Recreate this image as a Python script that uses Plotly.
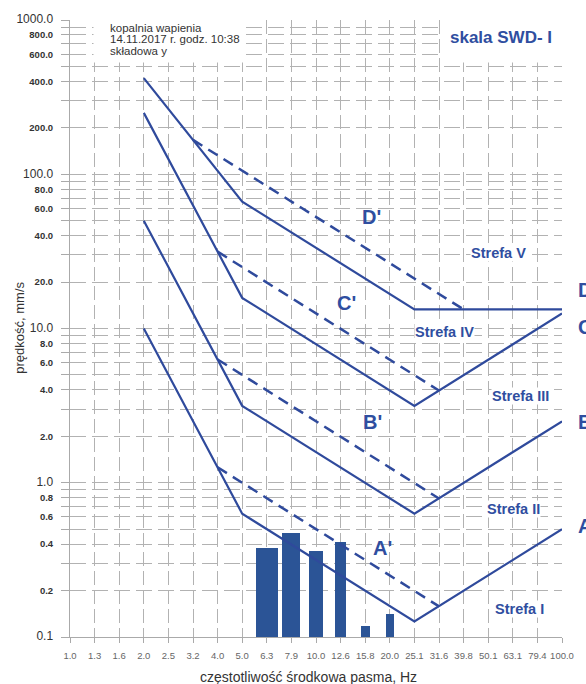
import plotly.graph_objects as go

# one-third-octave band centre frequencies (Hz)
bands = ["1.0", "1.3", "1.6", "2.0", "2.5", "3.2", "4.0", "5.0", "6.3", "7.9", "10.0",
         "12.6", "15.8", "20.0", "25.1", "31.6", "39.8", "50.1", "63.1", "79.4", "100.0"]

# zone boundaries of the SWD-I scale (mm/s)
a_freq = ["2.0", "5.0", "25.1", "100.0"]
a_vel = [10.0, 0.63, 0.126, 0.5]
b_freq = ["2.0", "5.0", "25.1", "100.0"]
b_vel = [50.0, 3.15, 0.63, 2.5]
c_freq = ["2.0", "5.0", "25.1", "100.0"]
c_vel = [250.0, 15.8, 3.15, 12.5]
d_freq = ["2.0", "5.0", "25.1", "100.0"]
d_vel = [420.0, 66.5, 13.3, 13.3]

# auxiliary (primed) boundaries
ap_freq = ["4.0", "31.6"]
ap_vel = [1.26, 0.158]
bp_freq = ["4.0", "31.6"]
bp_vel = [6.3, 0.79]
cp_freq = ["4.0", "31.6"]
cp_vel = [31.5, 3.96]
dp_freq = ["3.2", "39.8"]
dp_vel = [167.0, 13.3]

# measured band velocities, component y
meas_freq = ["6.3", "7.9", "10.0", "12.6", "15.8", "20.0"]
meas_vel = [0.38, 0.47, 0.36, 0.41, 0.117, 0.14]
meas_width = [0.9, 0.73, 0.6, 0.44, 0.38, 0.31]

LINE = "#2f4a9c"
BAR = "#2b5496"
TXT = "#2f4ea0"
GRID = "#b2b2b2"
FONT = "Liberation Sans, Arial, sans-serif"

L, R, T, B = 70, 12, 16, 47
W, H = 586, 684
PW, PH = W - L - R, H - T - B


def idx(freqs):
    return [bands.index(f) for f in freqs]


def px(x):
    return (x - L) / PW


def py(y):
    return (H - B - y) / PH


fig = go.Figure()

fig.add_trace(go.Bar(x=idx(meas_freq), y=meas_vel, width=meas_width,
                     marker=dict(color=BAR, line=dict(width=0)), showlegend=False))

for fr, v in [(a_freq, a_vel), (b_freq, b_vel), (c_freq, c_vel), (d_freq, d_vel)]:
    fig.add_trace(go.Scatter(x=idx(fr), y=v, mode="lines",
                             line=dict(color=LINE, width=2.2), showlegend=False))

for fr, v in [(ap_freq, ap_vel), (bp_freq, bp_vel), (cp_freq, cp_vel), (dp_freq, dp_vel)]:
    fig.add_trace(go.Scatter(x=idx(fr), y=v, mode="lines",
                             line=dict(color=LINE, width=2.5, dash="11px,7px"),
                             showlegend=False))

# velocity axis: grid at every 1..9 x decade, labels on selected values
yvals, ytext = [], []
for e in range(-1, 4):
    for m in range(1, 10):
        if e == 3 and m > 1:
            break
        v = round(m * 10 ** e, 3)
        yvals.append(v)
        if m == 1:
            ytext.append(f"<span style='font-size:12px'>{v:.1f}</span>")
        elif m in (2, 4, 6, 8):
            ytext.append(f"<b>{v:.1f}</b>")
        else:
            ytext.append("")

fig.update_layout(
    width=W, height=H,
    margin=dict(l=L, r=R, t=T, b=B),
    paper_bgcolor="white", plot_bgcolor="white",
    font=dict(family=FONT, color="#333333"),
    bargap=0,
    xaxis=dict(
        range=[0, 20], tickmode="array", tickvals=list(range(len(bands))), ticktext=bands,
        showgrid=True, gridcolor=GRID, gridwidth=1, griddash="14px,5px",
        showline=True, linecolor="#aaaaaa", linewidth=1,
        ticks="outside", ticklen=5, tickcolor="#aaaaaa",
        tickfont=dict(size=9.5, color="#666666"), ticklabelstandoff=5, zeroline=False,
    ),
    yaxis=dict(
        type="log", range=[-1, 3], tickmode="array", tickvals=yvals, ticktext=ytext,
        showgrid=True, gridcolor=GRID, gridwidth=1, griddash="16px,6px",
        showline=True, linecolor="#aaaaaa", linewidth=1,
        ticks="outside", ticklen=8, tickcolor="#aaaaaa",
        tickfont=dict(size=9.5, color="#333333"), ticklabelstandoff=6, zeroline=False,
    ),
)

ann = []

# white panels behind the header texts
for x0, x1 in [(94, 244), (451, 600)]:
    ann.append(dict(text="", xref="paper", yref="paper", x=px(x0), y=py(0),
                    xanchor="left", yanchor="top", showarrow=False,
                    width=x1 - x0, height=57, bgcolor="white", borderpad=0))


def label(text, x, y, size, color=TXT, bold=True, xanchor="center", bg=None, angle=0, xshift=0):
    ann.append(dict(text=f"<b>{text}</b>" if bold else text, xref="paper", yref="paper",
                    x=px(x), y=py(y), xanchor=xanchor, yanchor="middle", showarrow=False,
                    font=dict(size=size, color=color, family=FONT), textangle=angle,
                    bgcolor=bg, borderpad=0, xshift=xshift))


label("kopalnia wapienia", 110, 24, 11.5, "#333333", False, "left")
label("14.11.2017 r. godz. 10:38", 110, 35.5, 11.5, "#333333", False, "left")
label("składowa y", 110, 47, 11.5, "#333333", False, "left")
label("skala SWD- I", 511, 34, 17)

for t, x, y in [("D'", 379, 214), ("C'", 353, 301), ("B'", 380, 421), ("A'", 390, 547)]:
    label(t, x, y, 20)

for t, x, y in [("Strefa V", 509, 251), ("Strefa IV", 454, 330), ("Strefa III", 531, 394),
                ("Strefa II", 524, 508), ("Strefa I", 530, 609)]:
    label(t, x, y, 14.5, bg="white")

# end-of-curve letters sit at the right edge of the page
for t, y in [("D", 288), ("C", 325), ("B", 421), ("A", 525)]:
    label(t, 581, y, 20, xanchor="left", xshift=8)

label("prędkość, mm/s", 17.5, 326, 13, "#333333", False, angle=-90)
label("częstotliwość środkowa pasma, Hz", 314, 677, 14, "#333333", False)

fig.update_layout(annotations=ann)

fig.write_html("out.html")
